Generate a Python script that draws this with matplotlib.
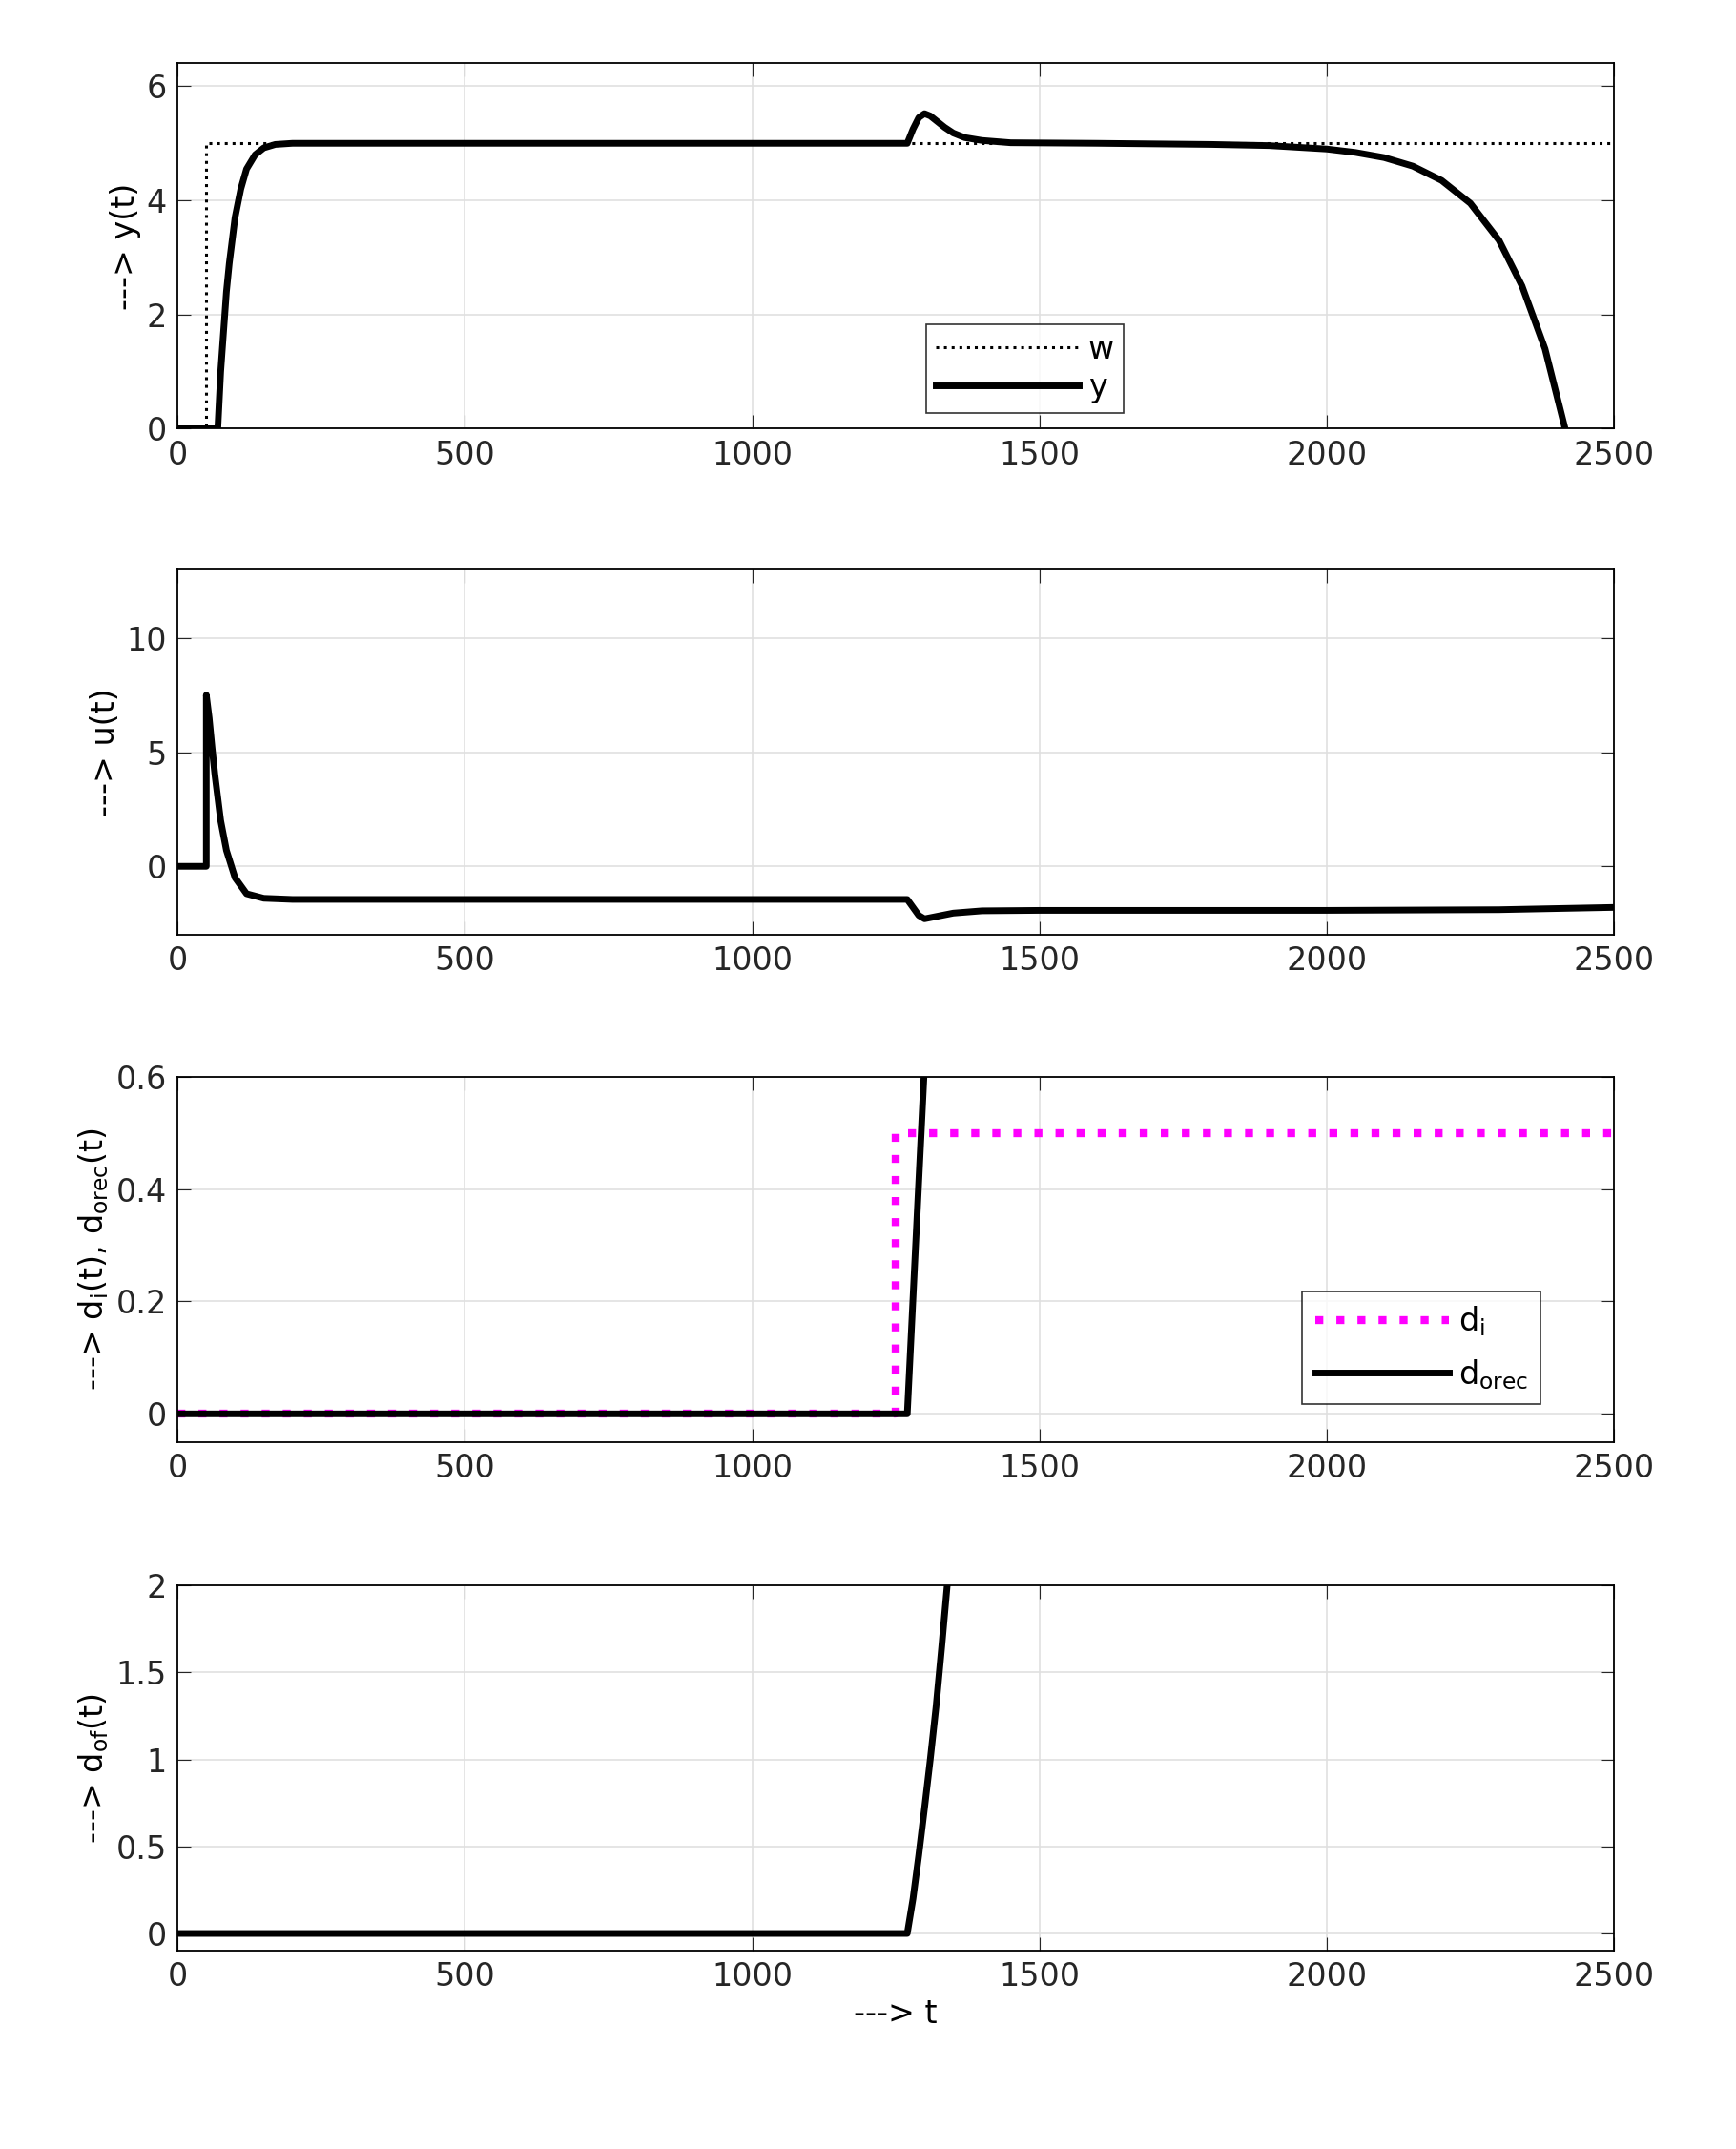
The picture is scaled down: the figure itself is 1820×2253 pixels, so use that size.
import numpy as np
import matplotlib.pyplot as plt

# values
t_w = [0, 50, 50, 2500]
w = [0, 0, 5, 5]

t_y = [0, 70, 75, 80, 85, 90, 100, 110, 120, 135, 150, 170, 200, 1270, 1280, 1290, 1300, 1310, 1320, 1335, 1350,
       1370, 1400, 1450, 1600, 1800, 1900, 2000, 2050, 2100, 2150, 2200, 2250, 2300, 2340, 2380, 2415]
y = [0, 0, 1.0, 1.7, 2.4, 2.9, 3.7, 4.2, 4.55, 4.8, 4.92, 4.98, 5.0, 5.0, 5.25, 5.45, 5.52, 5.48, 5.4, 5.28, 5.18,
     5.1, 5.05, 5.01, 5.0, 4.98, 4.96, 4.9, 4.84, 4.75, 4.6, 4.35, 3.95, 3.3, 2.5, 1.4, 0]

t_u = [0, 50, 50, 55, 60, 65, 75, 85, 100, 120, 150, 200, 1270, 1280, 1290, 1300, 1320, 1350, 1400, 1500, 2000,
       2300, 2500]
u = [0, 0, 7.5, 6.5, 5.2, 4.0, 2.0, 0.7, -0.5, -1.2, -1.4, -1.45, -1.45, -1.8, -2.15, -2.3, -2.2, -2.05, -1.95,
     -1.93, -1.93, -1.9, -1.8]

t_di = [0, 1250, 1250, 2500]
d_i = [0, 0, 0.5, 0.5]

t_dorec = [0, 1270, 1300]
d_orec = [0, 0, 0.62]

t_dof = [0, 1270, 1280, 1290, 1300, 1310, 1320, 1330, 1340]
d_of = [0, 0, 0.2, 0.45, 0.72, 1.0, 1.3, 1.65, 2.02]

fs = 24
lw = 5
fig = plt.figure(figsize=(18.2, 22.53), dpi=100)
L, W = 0.1023, 0.8274
boxes = [0.8005, 0.565, 0.329, 0.0922]
H = 0.170

def style(ax, ylim, yt):
    ax.set_xlim(0, 2500)
    ax.set_ylim(*ylim)
    ax.set_xticks([0, 500, 1000, 1500, 2000, 2500])
    ax.set_yticks(yt)
    ax.grid(True, color='#e0e0e0', lw=1.2)
    ax.set_axisbelow(True)
    ax.tick_params(labelsize=fs, direction='in', length=10, top=True, right=True, pad=8, colors='#262626')
    for s in ax.spines.values():
        s.set_linewidth(1.3)

ax1 = fig.add_axes([L, boxes[0], W, H])
ax1.plot(t_w, w, 'k:', lw=2.2, label='w')
ax1.plot(t_y, y, 'k-', lw=lw, label='y')
style(ax1, (0, 6.4), [0, 2, 4, 6])
ax1.set_ylabel('---> y(t)', fontsize=fs)
ax1.legend(loc='lower center', bbox_to_anchor=(0.59, 0.0), fontsize=fs, fancybox=False,
           edgecolor='k', handlelength=4.5, handletextpad=0.3, labelspacing=0.2,
           borderpad=0.3).get_frame().set_linewidth(1.2)

ax2 = fig.add_axes([L, boxes[1], W, H])
ax2.plot(t_u, u, 'k-', lw=lw)
style(ax2, (-3, 13), [0, 5, 10])
ax2.set_ylabel('---> u(t)', fontsize=fs)

ax3 = fig.add_axes([L, boxes[2], W, H])
ax3.plot(t_di, d_i, ':', color='magenta', lw=lw + 1, label='d$_\\mathregular{i}$')
ax3.plot(t_dorec, d_orec, 'k-', lw=lw, label='d$_\\mathregular{orec}$')
style(ax3, (-0.05, 0.6), [0, 0.2, 0.4, 0.6])
ax3.set_yticklabels(['0', '0.2', '0.4', '0.6'])
ax3.set_ylabel('---> d$_\\mathregular{i}$(t), d$_\\mathregular{orec}$(t)', fontsize=fs)
ax3.legend(loc='lower right', bbox_to_anchor=(0.96, 0.06), fontsize=fs, fancybox=False,
           edgecolor='k', handlelength=4.2, handletextpad=0.3, borderpad=0.4,
           labelspacing=0.6).get_frame().set_linewidth(1.2)

ax4 = fig.add_axes([L, boxes[3], W, H])
ax4.plot(t_dof, d_of, 'k-', lw=lw)
style(ax4, (-0.1, 2), [0, 0.5, 1, 1.5, 2])
ax4.set_yticklabels(['0', '0.5', '1', '1.5', '2'])
ax4.set_ylabel('---> d$_\\mathregular{of}$(t)', fontsize=fs)
ax4.set_xlabel('---> t', fontsize=fs)

fig.savefig('out.png', dpi=100)
